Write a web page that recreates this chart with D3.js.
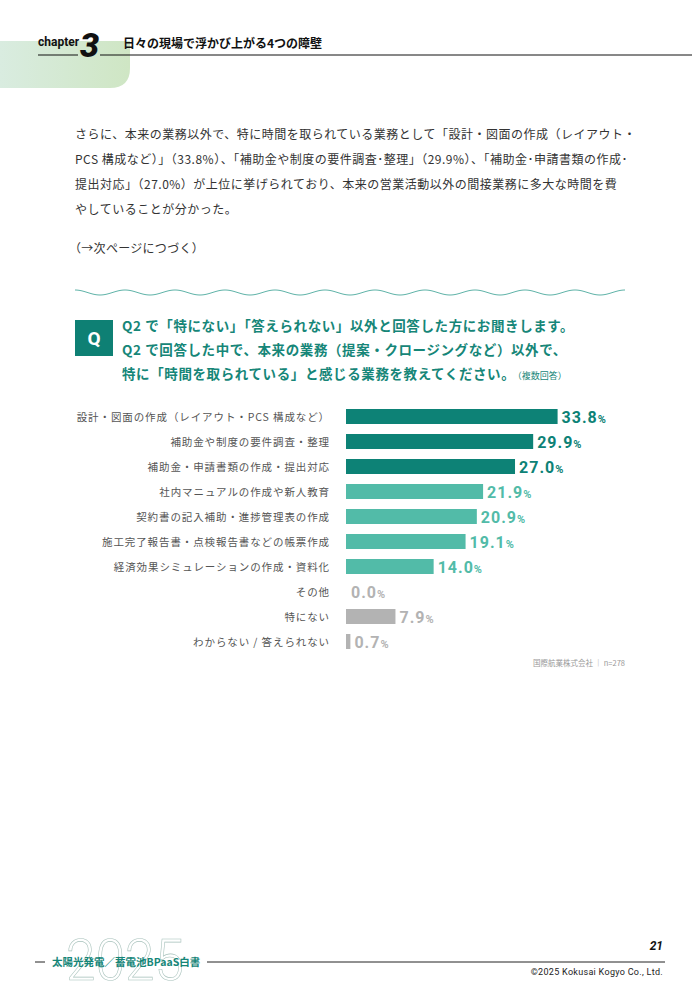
<!DOCTYPE html>
<html lang="ja">
<head>
<meta charset="utf-8">
<script src="https://cdn.jsdelivr.net/npm/d3@7"></script>
<style>
  html, body { margin: 0; padding: 0; background: #fff; }
  svg { display: block; font-family: "Noto Sans CJK JP", "Noto Sans", sans-serif; }
</style>
</head>
<body>
<script>
const CATEGORIES = [
    '設計・図面の作成（レイアウト・PCS 構成など）',
    '補助金や制度の要件調査・整理',
    '補助金・申請書類の作成・提出対応',
    '社内マニュアルの作成や新人教育',
    '契約書の記入補助・進捗管理表の作成',
    '施工完了報告書・点検報告書などの帳票作成',
    '経済効果シミュレーションの作成・資料化',
    'その他',
    '特にない',
    'わからない / 答えられない',
];
const VALUES = [33.8, 29.9, 27.0, 21.9, 20.9, 19.1, 14.0, 0.0, 7.9, 0.7];
const TIERS = ['top', 'top', 'top', 'mid', 'mid', 'mid', 'mid', 'none', 'none', 'none'];

const BODY_LINES = [
    'さらに、本来の業務以外で、特に時間を取られている業務として「設計・図面の作成（レイアウト・',
    'PCS 構成など）」（33.8%）、「補助金や制度の要件調査･整理」（29.9%）、「補助金･申請書類の作成･',
    '提出対応」（27.0%）が上位に挙げられており、本来の営業活動以外の間接業務に多大な時間を費',
    'やしていることが分かった。',
];
const QUESTION_LINES = [
    'Q2 で「特にない」「答えられない」以外と回答した方にお聞きします。',
    'Q2 で回答した中で、本来の業務（提案・クロージングなど）以外で、',
    '特に「時間を取られている」と感じる業務を教えてください。',
];

const W = 700, H = 990;
const COLORS = { top: '#0d8276', mid: '#52bba8', none: '#b3b3b3' };
const TEAL = '#168678';

function header(svg)
{
    const grad = svg.append('defs').append('linearGradient')
        .attr('id', 'hdrGrad').attr('x1', 0).attr('x2', 1);
    grad.append('stop').attr('offset', 0).attr('stop-color', '#d9ece0');
    grad.append('stop').attr('offset', 1).attr('stop-color', '#cfe6c4');
    svg.append('path')
        .attr('d', 'M0,41 H130 V68 Q130,88 110,88 H0 Z')
        .attr('fill', 'url(#hdrGrad)');

    svg.append('text').attr('x', 38).attr('y', 46)
        .attr('font-family', 'Roboto, sans-serif').attr('font-weight', 700)
        .attr('font-size', 12).attr('fill', '#111').text('chapter');
    svg.append('text').attr('x', 80).attr('y', 57)
        .attr('font-family', 'Roboto, sans-serif').attr('font-weight', 900)
        .attr('font-style', 'italic').attr('font-size', 34).attr('fill', '#111').text('3');
    svg.append('line').attr('x1', 38).attr('x2', 78).attr('y1', 55).attr('y2', 55)
        .attr('stroke', '#111').attr('stroke-width', 1);
    svg.append('line').attr('x1', 100).attr('x2', 692).attr('y1', 55).attr('y2', 55)
        .attr('stroke', '#111').attr('stroke-width', 1);
    svg.append('text').attr('x', 123).attr('y', 48)
        .attr('font-weight', 700).attr('font-size', 12).attr('fill', '#111')
        .text('日々の現場で浮かび上がる4つの障壁');
}

function bodyText(svg)
{
    svg.append('g').selectAll('text').data(BODY_LINES).enter().append('text')
        .attr('x', 75).attr('y', (d, i) => 139 + i * 25)
        .attr('font-size', 12).attr('fill', '#333').attr('letter-spacing', 0.5)
        .text(d => d);
    svg.append('text').attr('x', 69).attr('y', 253)
        .attr('font-size', 12).attr('fill', '#333').attr('letter-spacing', 0.3)
        .text('（→次ページにつづく）');

    // wavy divider
    const xs = d3.range(75, 626, 1);
    const wave = d3.line().x(d => d).y(d => 292.5 - 2.5 * Math.cos((d - 75) / 50 * 2 * Math.PI));
    svg.append('path').attr('d', wave(xs)).attr('fill', 'none')
        .attr('stroke', '#5fb3a8').attr('stroke-width', 1);
}

function question(svg)
{
    svg.append('rect').attr('x', 75).attr('y', 320).attr('width', 38).attr('height', 36)
        .attr('fill', '#0e8074');
    svg.append('text').attr('x', 94).attr('y', 345).attr('text-anchor', 'middle')
        .attr('font-family', 'Roboto, sans-serif').attr('font-weight', 700)
        .attr('font-size', 19).attr('fill', '#fff').text('Q');

    const q = svg.append('g').selectAll('text').data(QUESTION_LINES).enter().append('text')
        .attr('x', 122).attr('y', (d, i) => 331 + i * 24)
        .attr('font-weight', 700).attr('font-size', 13.5).attr('fill', TEAL)
        .attr('letter-spacing', 0.6)
        .text(d => d);
    q.filter((d, i) => i === 2).append('tspan')
        .attr('font-size', 9).attr('font-weight', 400).attr('dx', 2).attr('letter-spacing', 0)
        .text('（複数回答）');
}

function chart(svg)
{
    const data = CATEGORIES.map((c, i) => ({ label: c, value: VALUES[i], tier: TIERS[i] }));
    const x = d3.scaleLinear().domain([0, 40]).range([346, 346 + 250.4]);
    const y = d3.scaleBand().domain(CATEGORIES).range([404, 654])
        .paddingInner(0.4).paddingOuter(0.2);

    const g = svg.append('g');
    g.selectAll('rect').data(data).enter().append('rect')
        .attr('x', x(0))
        .attr('y', d => y(d.label))
        .attr('width', d => x(d.value) - x(0))
        .attr('height', y.bandwidth())
        .attr('fill', d => COLORS[d.tier]);

    g.selectAll('text.cat').data(data).enter().append('text')
        .attr('class', 'cat')
        .attr('x', 330).attr('y', d => y(d.label) + y.bandwidth() / 2 + 4)
        .attr('text-anchor', 'end').attr('font-size', 10.5).attr('fill', '#555')
        .attr('letter-spacing', 0.9)
        .text(d => d.label);

    const val = g.selectAll('text.val').data(data).enter().append('text')
        .attr('class', 'val')
        .attr('x', d => x(d.value) + (d.value > 0 ? 4 : 5))
        .attr('y', d => y(d.label) + y.bandwidth() / 2 + 6)
        .attr('font-family', 'Roboto, sans-serif').attr('font-weight', 700)
        .attr('fill', d => COLORS[d.tier]).attr('letter-spacing', 1);
    val.append('tspan').attr('font-size', 16).text(d => d.value.toFixed(1));
    val.append('tspan').attr('font-size', 11).attr('letter-spacing', 0).text('%');

    svg.append('text').attr('x', 625).attr('y', 666).attr('text-anchor', 'end')
        .attr('font-size', 7.5).attr('fill', '#999').text('国際航業株式会社 │ n=278');
}

function footer(svg)
{
    svg.append('text').attr('x', 66).attr('y', 980)
        .attr('font-family', 'Roboto, sans-serif').attr('font-weight', 300)
        .attr('font-size', 58).attr('textLength', 118).attr('lengthAdjust', 'spacingAndGlyphs')
        .attr('fill', 'none').attr('stroke', '#a8c2bc').attr('stroke-width', 0.6)
        .text('2025');
    svg.append('line').attr('x1', 35).attr('x2', 45).attr('y1', 962).attr('y2', 962)
        .attr('stroke', '#222').attr('stroke-width', 1);
    svg.append('text').attr('x', 52).attr('y', 966)
        .attr('font-weight', 700).attr('font-size', 10.5).attr('fill', TEAL)
        .text('太陽光発電／蓄電池BPaaS白書');
    svg.append('line').attr('x1', 207).attr('x2', 665).attr('y1', 962).attr('y2', 962)
        .attr('stroke', '#222').attr('stroke-width', 1);
    svg.append('text').attr('x', 663).attr('y', 950).attr('text-anchor', 'end')
        .attr('font-family', 'Roboto, sans-serif').attr('font-weight', 700)
        .attr('font-style', 'italic').attr('font-size', 12).attr('fill', '#111').text('21');
    svg.append('text').attr('x', 663).attr('y', 975).attr('text-anchor', 'end')
        .attr('font-family', 'Roboto, sans-serif').attr('letter-spacing', 0.3)
        .attr('font-size', 9).attr('fill', '#222').text('©2025 Kokusai Kogyo Co., Ltd.');
}

function main()
{
    const svg = d3.select('body').append('svg')
        .attr('width', W).attr('height', H);
    header(svg);
    bodyText(svg);
    question(svg);
    chart(svg);
    footer(svg);
}

main();
</script>
</body>
</html>
